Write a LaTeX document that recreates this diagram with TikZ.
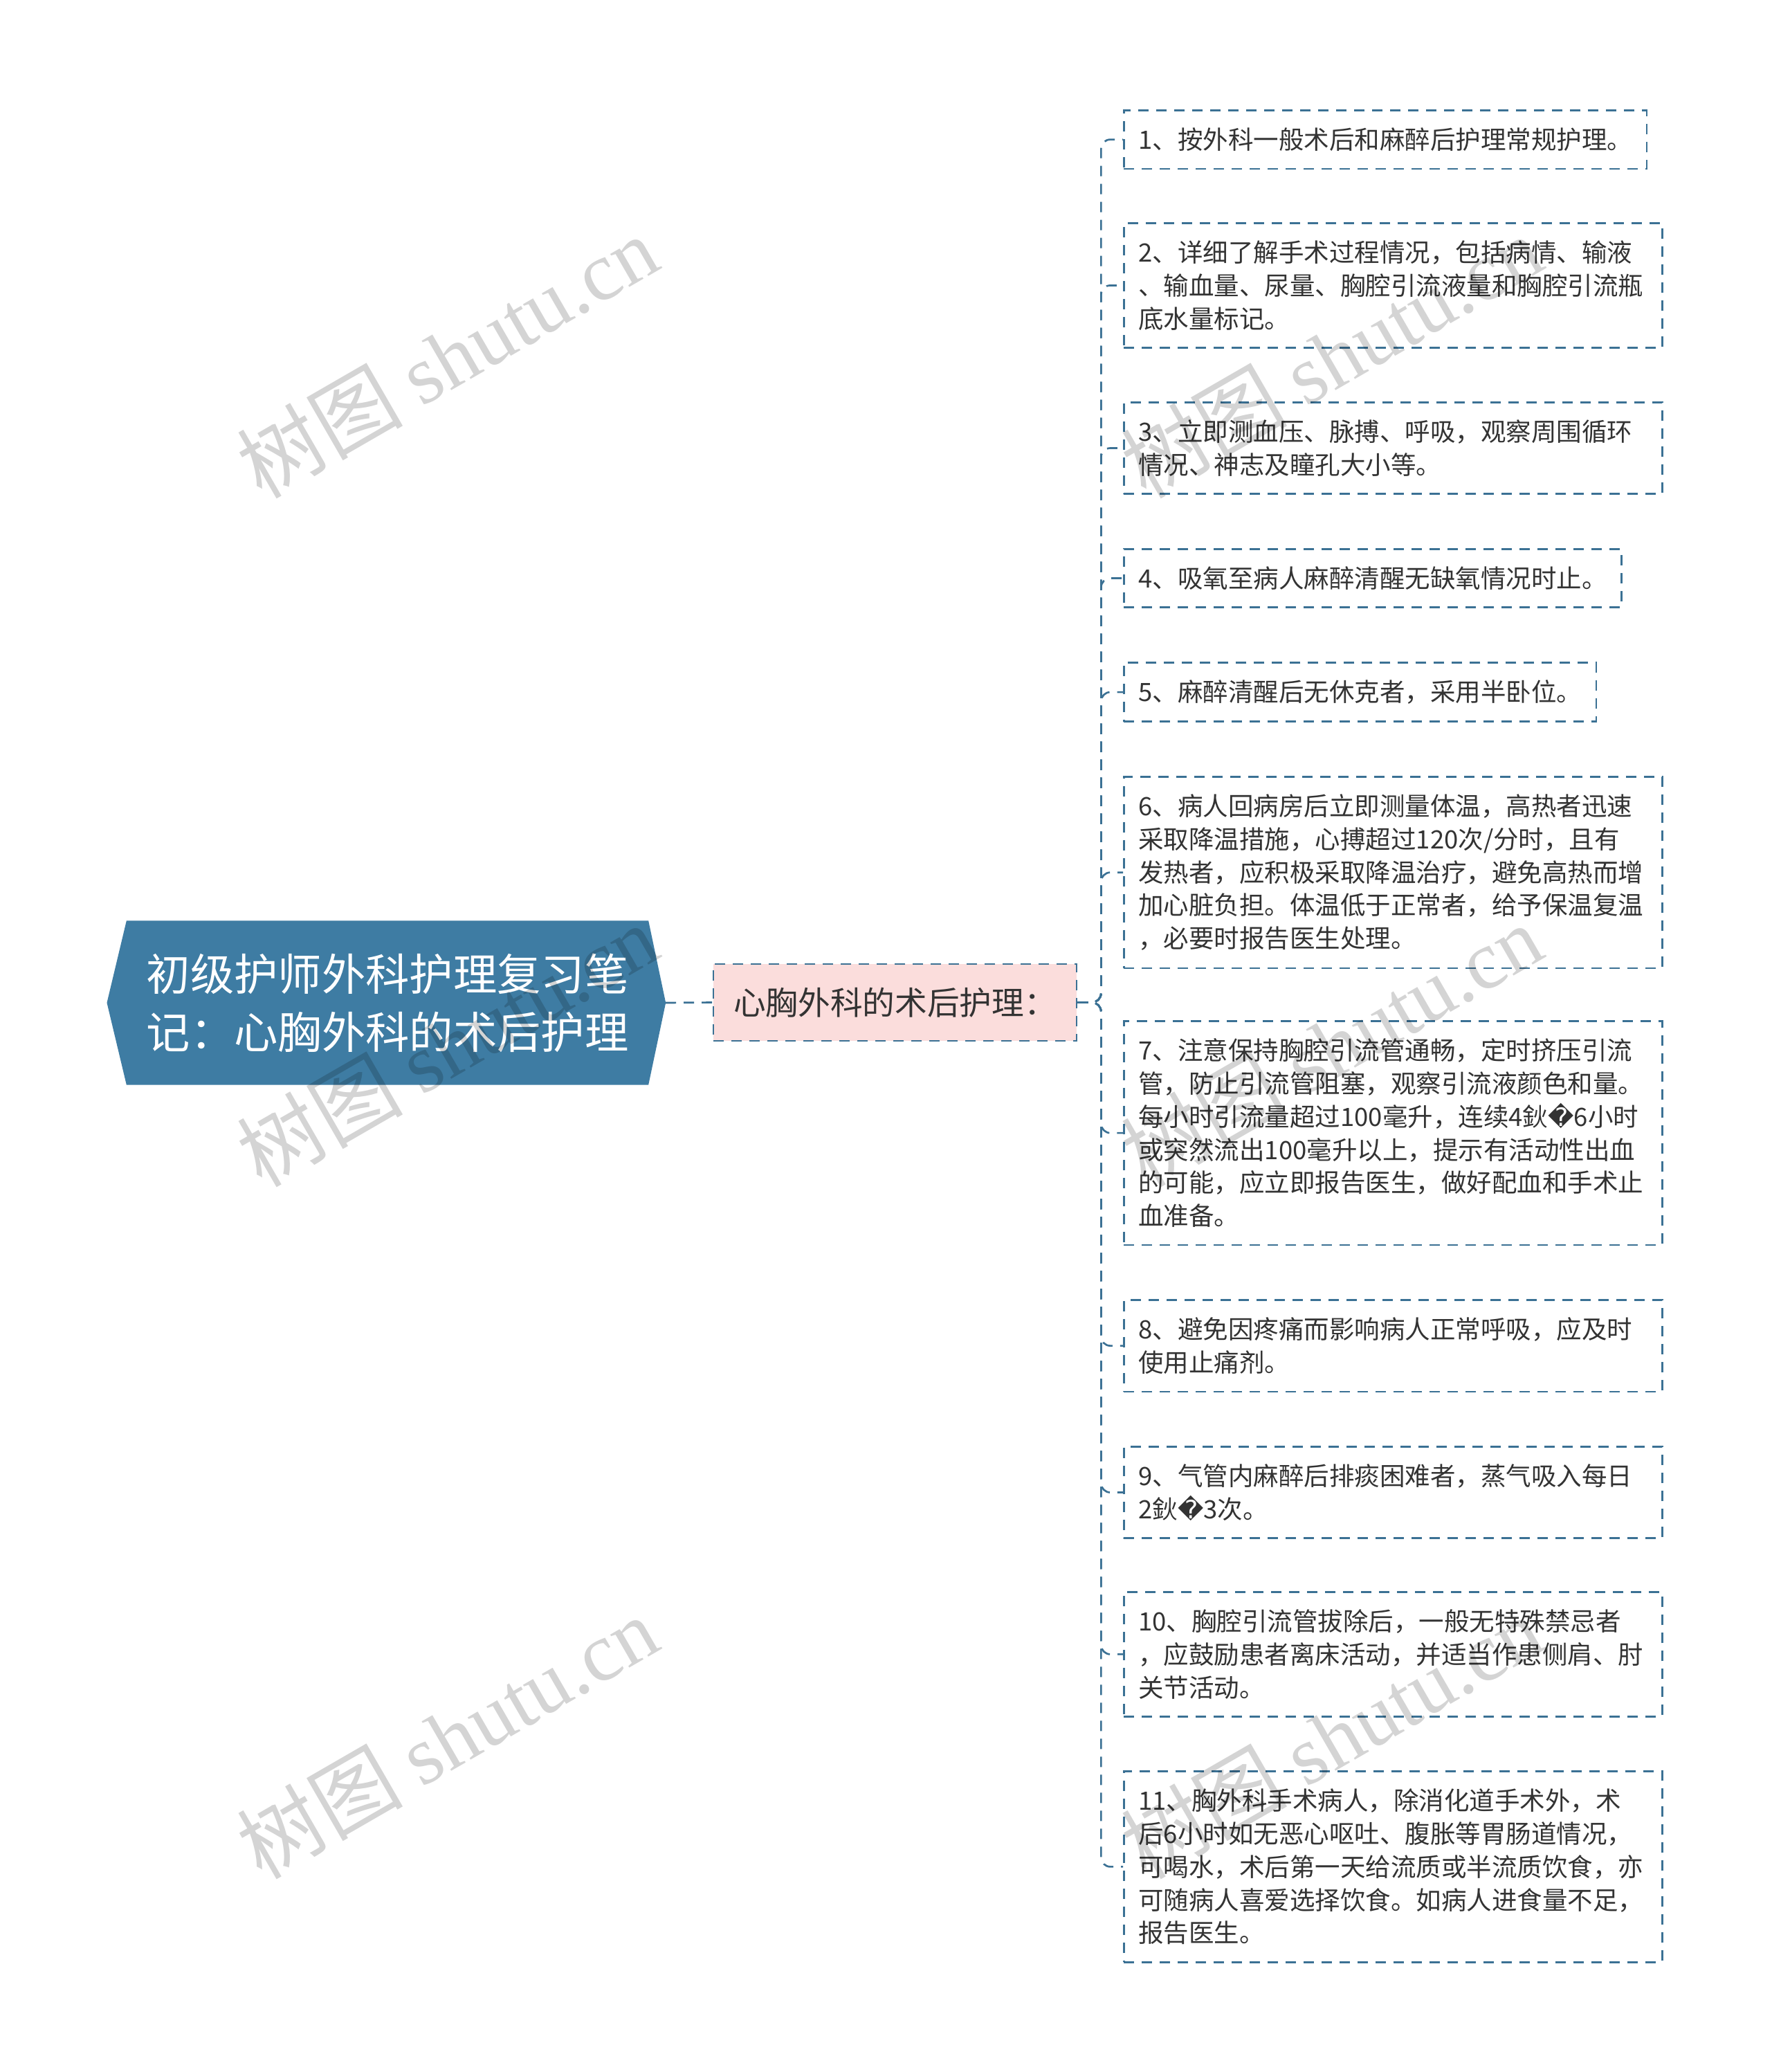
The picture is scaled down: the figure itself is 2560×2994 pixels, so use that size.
\documentclass[tikz,border=0pt]{standalone}
\usepackage{fontspec}
\setmainfont{Noto Sans CJK SC}
\newfontfamily\symfont{DejaVu Sans}
\newfontfamily\wmfont{Liberation Serif}
\usetikzlibrary{positioning,backgrounds}

\definecolor{rootblue}{HTML}{3E7CA3}
\definecolor{linkblue}{HTML}{3B7194}
\definecolor{midpink}{HTML}{FBDDDC}
\definecolor{textgray}{HTML}{333333}

\tikzset{
  leaf/.style={draw=linkblue, line width=0.8pt, dash pattern=on 4.5pt off 3.3pt,
    fill=white, text=textgray, font=\fontsize{10.95pt}{14.34pt}\selectfont,
    align=left, inner xsep=6.3pt, inner ysep=7.6pt, anchor=north west},
  wide/.style={leaf, text width=220.8pt},
  link/.style={draw=linkblue, line width=0.8pt, dash pattern=on 4.5pt off 3.3pt,
    rounded corners=4pt},
  wmark/.style={text=black, text opacity=0.17, rotate=30,
    font=\fontsize{36pt}{40pt}\selectfont}
}

\begin{document}
\begin{tikzpicture}[x=0.3pt, y=-0.3pt]

\useasboundingbox (0,0) rectangle (2560,2994);

% Wurzel und Thema
\node[text=white, align=left, minimum width=225.9pt, minimum height=70.8pt,
  font=\fontsize{19pt}{25.2pt}\selectfont] (root) at (560,1449)
  {初级护师外科护理复习笔\\记：心胸外科的术后护理};
\node[draw=linkblue, fill=midpink, line width=0.8pt, dash pattern=on 4.5pt off 3.3pt,
  text=textgray, minimum width=157.5pt, minimum height=33.3pt,
  font=\fontsize{14pt}{16pt}\selectfont] (mid) at (1293.5,1448.5) {心胸外科的术后护理：};

\begin{scope}[on background layer]
  \fill[white] (0,0) rectangle (2560,2994);
  \fill[rootblue] ([xshift=-8.5pt]root.west) -- (root.north west) -- (root.north east)
    -- ([xshift=7.5pt]root.east) -- (root.south east) -- (root.south west) -- cycle;
\end{scope}

% Punkte
\node[leaf] (L1)  at (1623,158)  {1、按外科一般术后和麻醉后护理常规护理。};
\node[wide] (L2)  at (1623,321)  {2、详细了解手术过程情况，包括病情、输液\\、输血量、尿量、胸腔引流液量和胸腔引流瓶\\底水量标记。};
\node[wide] (L3)  at (1623,580)  {3、立即测血压、脉搏、呼吸，观察周围循环\\情况、神志及瞳孔大小等。};
\node[leaf] (L4)  at (1623,792)  {4、吸氧至病人麻醉清醒无缺氧情况时止。};
\node[leaf] (L5)  at (1623,956)  {5、麻醉清醒后无休克者，采用半卧位。};
\node[wide] (L6)  at (1623,1121) {6、病人回病房后立即测量体温，高热者迅速\\采取降温措施，心搏超过120次/分时，且有\\发热者，应积极采取降温治疗，避免高热而增\\加心脏负担。体温低于正常者，给予保温复温\\，必要时报告医生处理。};
\node[wide] (L7)  at (1623,1474) {7、注意保持胸腔引流管通畅，定时挤压引流\\管，防止引流管阻塞，观察引流液颜色和量。\\每小时引流量超过100毫升，连续4鈥{\symfont �}6小时\\或突然流出100毫升以上，提示有活动性出血\\的可能，应立即报告医生，做好配血和手术止\\血准备。};
\node[wide] (L8)  at (1623,1877) {8、避免因疼痛而影响病人正常呼吸，应及时\\使用止痛剂。};
\node[wide] (L9)  at (1623,2089) {9、气管内麻醉后排痰困难者，蒸气吸入每日\\2鈥{\symfont �}3次。};
\node[wide] (L10) at (1623,2299) {10、胸腔引流管拔除后，一般无特殊禁忌者\\，应鼓励患者离床活动，并适当作患侧肩、肘\\关节活动。};
\node[wide] (L11) at (1623,2558) {11、胸外科手术病人，除消化道手术外，术\\后6小时如无恶心呕吐、腹胀等胃肠道情况，\\可喝水，术后第一天给流质或半流质饮食，亦\\可随病人喜爱选择饮食。如病人进食量不足，\\报告医生。};

% Verbindungen
\draw[link] ([xshift=7.5pt]root.east) -- (mid.west);
\foreach \i in {1,...,11}
  \draw[link] (mid.east) -- ++(10.2pt,0) |- (L\i.west);

% Wasserzeichen
\foreach \wx in {646,1924}
  \foreach \wy in {515,1510,2510}
    \node[wmark] at (\wx,\wy) {树图 {\wmfont shutu.cn}};

\end{tikzpicture}
\end{document}
